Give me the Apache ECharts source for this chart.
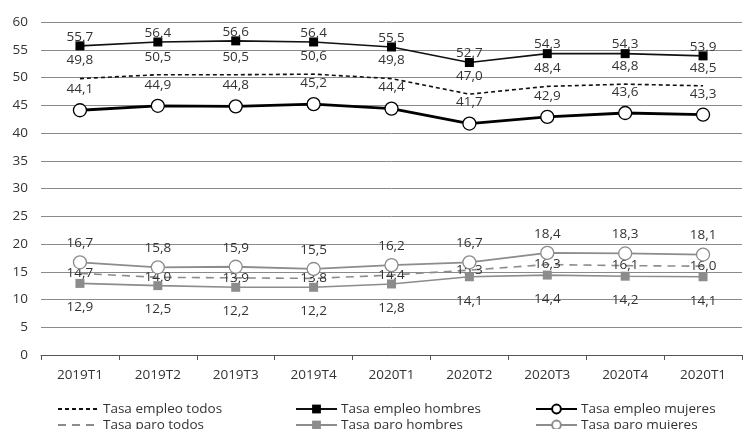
<!DOCTYPE html>
<html><head><meta charset="utf-8">
<script src="https://cdn.jsdelivr.net/npm/echarts@6/dist/echarts.min.js"></script>
<style>html,body{margin:0;padding:0;background:#fff}#c{width:745px;height:429px}</style>
</head><body><div id="c"></div>
<script>
const categories = ['2019T1','2019T2','2019T3','2019T4','2020T1','2020T2','2020T3','2020T4','2020T1'];
const empleoTodos   = [49.8, 50.5, 50.5, 50.6, 49.8, 47.0, 48.4, 48.8, 48.5];
const empleoHombres = [55.7, 56.4, 56.6, 56.4, 55.5, 52.7, 54.3, 54.3, 53.9];
const empleoMujeres = [44.1, 44.9, 44.8, 45.2, 44.4, 41.7, 42.9, 43.6, 43.3];
const paroTodos     = [14.7, 14.0, 13.9, 13.8, 14.4, 15.3, 16.3, 16.1, 16.0];
const paroHombres   = [12.9, 12.5, 12.2, 12.2, 12.8, 14.1, 14.4, 14.2, 14.1];
const paroMujeres   = [16.7, 15.8, 15.9, 15.5, 16.2, 16.7, 18.4, 18.3, 18.1];
const yTicks = [0,5,10,15,20,25,30,35,40,45,50,55,60];
const seriesNames = ['Tasa empleo todos','Tasa empleo hombres','Tasa empleo mujeres',
                     'Tasa paro todos','Tasa paro hombres','Tasa paro mujeres'];

const FONT = 'Open Sans';
const FS = 13.5;
const fmt = p => p.value.toFixed(1).replace('.', ',');
function lbl(offY){
  return {show:true, position:'inside', offset:[0,offY], formatter:fmt,
    color:'#333', fontSize:FS, fontFamily:FONT};
}
function leg(name, left, top, hideSymbol){
  const item = {name:name};
  if (hideSymbol) item.itemStyle = {opacity:0};
  return {data:[item], left:left, top:top, orient:'horizontal', padding:0,
    itemWidth:41, itemHeight:11, itemGap:0,
    textStyle:{color:'#333', fontSize:FS, fontFamily:FONT, padding:[0,0,0,-1]}};
}
const chart = echarts.init(document.getElementById('c'), null, {renderer:'canvas'});
chart.setOption({
  animation:false,
  textStyle:{fontFamily:FONT},
  grid:{left:41, right:3, top:22, bottom:74, containLabel:false},
  xAxis:{type:'category', data:categories, boundaryGap:true,
    axisLine:{lineStyle:{color:'#555', width:1}},
    axisTick:{show:true, length:5, inside:false, lineStyle:{color:'#555'}},
    axisLabel:{color:'#333', fontSize:FS, fontFamily:FONT, margin:13}},
  yAxis:{type:'value', min:yTicks[0], max:yTicks[yTicks.length-1], interval:5,
    axisLine:{show:false}, axisTick:{show:false},
    axisLabel:{color:'#333', fontSize:FS, fontFamily:FONT, margin:13},
    splitLine:{lineStyle:{color:'#8a8a8a', width:1}}},
  legend:[
    leg(seriesNames[0], 57, 402, true),
    leg(seriesNames[3], 57, 418, true),
    leg(seriesNames[1], 295, 402, false),
    leg(seriesNames[4], 295, 418, false),
    leg(seriesNames[2], 535, 402, false),
    leg(seriesNames[5], 535, 418, false)
  ],
  series:[
    {name:seriesNames[0], type:'line', data:empleoTodos, symbol:'circle', symbolSize:0.1,
     lineStyle:{color:'#111', width:1.6, type:[4,3]}, itemStyle:{color:'#111'},
     label:lbl(-18), z:2},
    {name:seriesNames[1], type:'line', data:empleoHombres, symbol:'rect', symbolSize:9,
     lineStyle:{color:'#111', width:1.6}, itemStyle:{color:'#000'},
     label:lbl(-9), z:3},
    {name:seriesNames[2], type:'line', data:empleoMujeres, symbol:'circle', symbolSize:13,
     lineStyle:{color:'#000', width:2.8}, itemStyle:{color:'#fff', borderColor:'#000', borderWidth:1.3},
     label:lbl(-21), z:3},
    {name:seriesNames[3], type:'line', data:paroTodos, symbol:'circle', symbolSize:0.1,
     lineStyle:{color:'#8c8c8c', width:1.6, type:[8,6]}, itemStyle:{color:'#8c8c8c'},
     label:lbl(0), z:2},
    {name:seriesNames[4], type:'line', data:paroHombres, symbol:'rect', symbolSize:9,
     lineStyle:{color:'#8c8c8c', width:1.6}, itemStyle:{color:'#8c8c8c'},
     label:lbl(24), z:3},
    {name:seriesNames[5], type:'line', data:paroMujeres, symbol:'circle', symbolSize:13,
     lineStyle:{color:'#8c8c8c', width:1.8}, itemStyle:{color:'#fff', borderColor:'#8c8c8c', borderWidth:1.3},
     label:lbl(-19), z:3}
  ]
});
</script></body></html>
